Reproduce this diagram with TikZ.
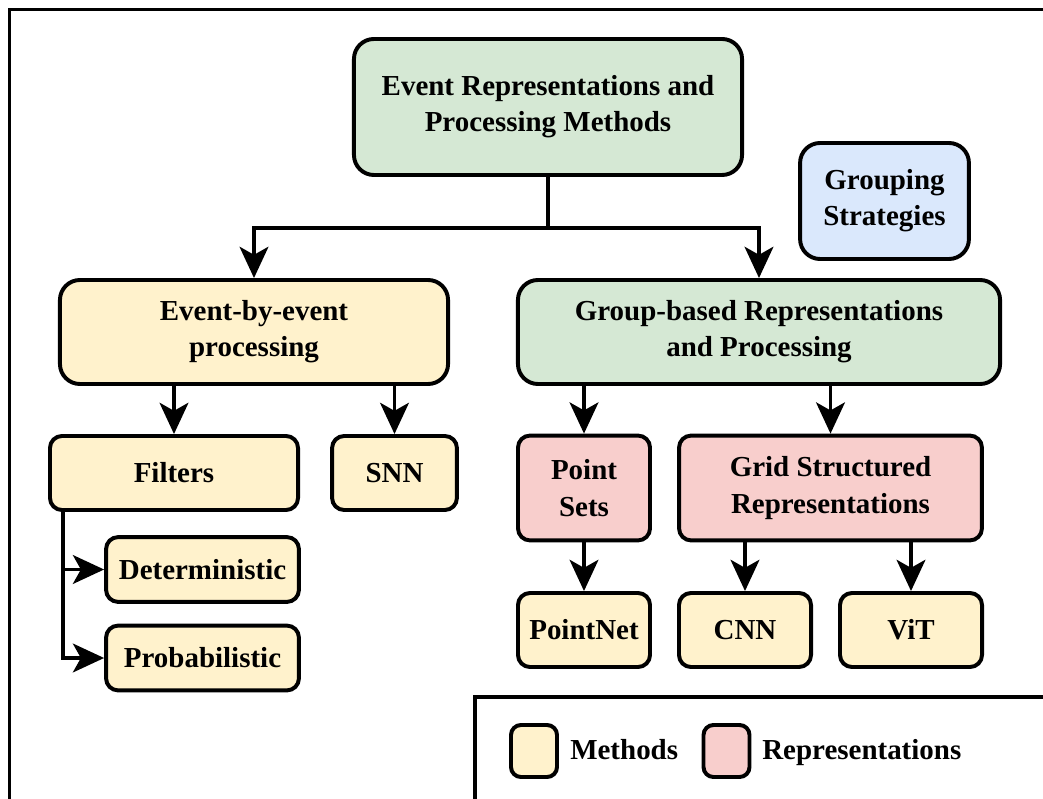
\documentclass[tikz,border=0pt]{standalone}
\usepackage{fontspec}
\setmainfont{Liberation Serif}
\usepackage{tikz}
\usetikzlibrary{arrows.meta,positioning}
\definecolor{topgreen}{HTML}{D5E8D4}
\definecolor{methodyellow}{HTML}{FFF2CC}
\definecolor{reprpink}{HTML}{F8CECC}
\definecolor{groupblue}{HTML}{DAE8FC}

\begin{document}
\begin{tikzpicture}[
    x=0.025cm, y=-0.025cm,
    box/.style={rectangle, rounded corners=0.3cm, draw=black, line width=2.8pt, font=\fontsize{20.6}{25.8}\selectfont\bfseries, align=center, inner sep=0pt},
    bigbox/.style={box, rounded corners=0.5cm},
    method/.style={box, fill=methodyellow},
    repr/.style={box, fill=reprpink},
    arrow/.style={-{Stealth[length=0.78cm, width=0.72cm, inset=0.2cm]}, line width=2.5pt},
    link/.style={line width=2.5pt},
    frame/.style={draw=black, line width=2.8pt},
    keytext/.style={anchor=base west, font=\fontsize{20.6}{25.8}\selectfont\bfseries, inner sep=0pt}
]
\useasboundingbox (0,0) rectangle (1043,799);
\draw[frame] (9.5,9.5) rectangle (1080,840);
\draw[frame] (475,697) rectangle (1080,840);

\node[bigbox, fill=topgreen, minimum width=9.7cm, minimum height=3.4cm] (root) at (548,107) {Event Representations and\\Processing Methods};
\node[bigbox, fill=groupblue, minimum width=4.22cm, minimum height=2.9cm] (group) at (884.5,201) {Grouping\\Strategies};

\node[bigbox, fill=methodyellow, minimum width=9.7cm, minimum height=2.6cm] (ebe) at (254,332) {Event-by-event\\processing};
\node[bigbox, fill=topgreen, minimum width=12.05cm, minimum height=2.6cm] (gbr) at (759,332) {Group-based Representations\\and Processing};

\node[method, minimum width=6.2cm, minimum height=1.85cm] (filters) at (174,473) {Filters};
\node[method, minimum width=3.12cm, minimum height=1.85cm] (snn) at (394.5,473) {SNN};
\node[method, minimum width=4.82cm, minimum height=1.62cm] (det) at (202.5,569.5) {Deterministic};
\node[method, minimum width=4.82cm, minimum height=1.62cm] (prob) at (202.5,658) {Probabilistic};

\node[repr, minimum width=3.3cm, minimum height=2.62cm] (pset) at (584,488) {Point\\Sets};
\node[repr, minimum width=7.57cm, minimum height=2.62cm] (grid) at (830.5,488) {Grid Structured\\Representations};

\node[method, minimum width=3.3cm, minimum height=1.85cm] (pnet) at (584,630) {PointNet};
\node[method, minimum width=3.3cm, minimum height=1.85cm] (cnn) at (745,630) {CNN};
\node[method, minimum width=3.55cm, minimum height=1.85cm] (vit) at (911,630) {ViT};

\node[method, rounded corners=0.25cm, minimum width=1.15cm, minimum height=1.3cm] (keymethod) at (534,751) {};
\node[keytext] (keymethodtext) at (570,759) {Methods};
\node[repr, rounded corners=0.25cm, minimum width=1.15cm, minimum height=1.3cm] (keyrepr) at (726.5,751) {};
\node[keytext] (keyreprtext) at (762,759) {Representations};

\coordinate (split) at (548,228);
\draw[link] (root.south) -- (split);
\draw[arrow] (split) -| (ebe.north);
\draw[arrow] (split) -| (gbr.north);

\draw[arrow] (filters.north |- ebe.south) -- (filters.north);
\draw[arrow] (snn.north |- ebe.south) -- (snn.north);
\draw[arrow] ([xshift=0.375cm]filters.south west) |- (det.west);
\draw[arrow] ([xshift=0.375cm]filters.south west) |- (prob.west);

\draw[arrow] (pset.north |- gbr.south) -- (pset.north);
\draw[arrow] (grid.north |- gbr.south) -- (grid.north);
\draw[arrow] (pset.south) -- (pnet.north);
\draw[arrow] (cnn.north |- grid.south) -- (cnn.north);
\draw[arrow] (vit.north |- grid.south) -- (vit.north);
\end{tikzpicture}
\end{document}
